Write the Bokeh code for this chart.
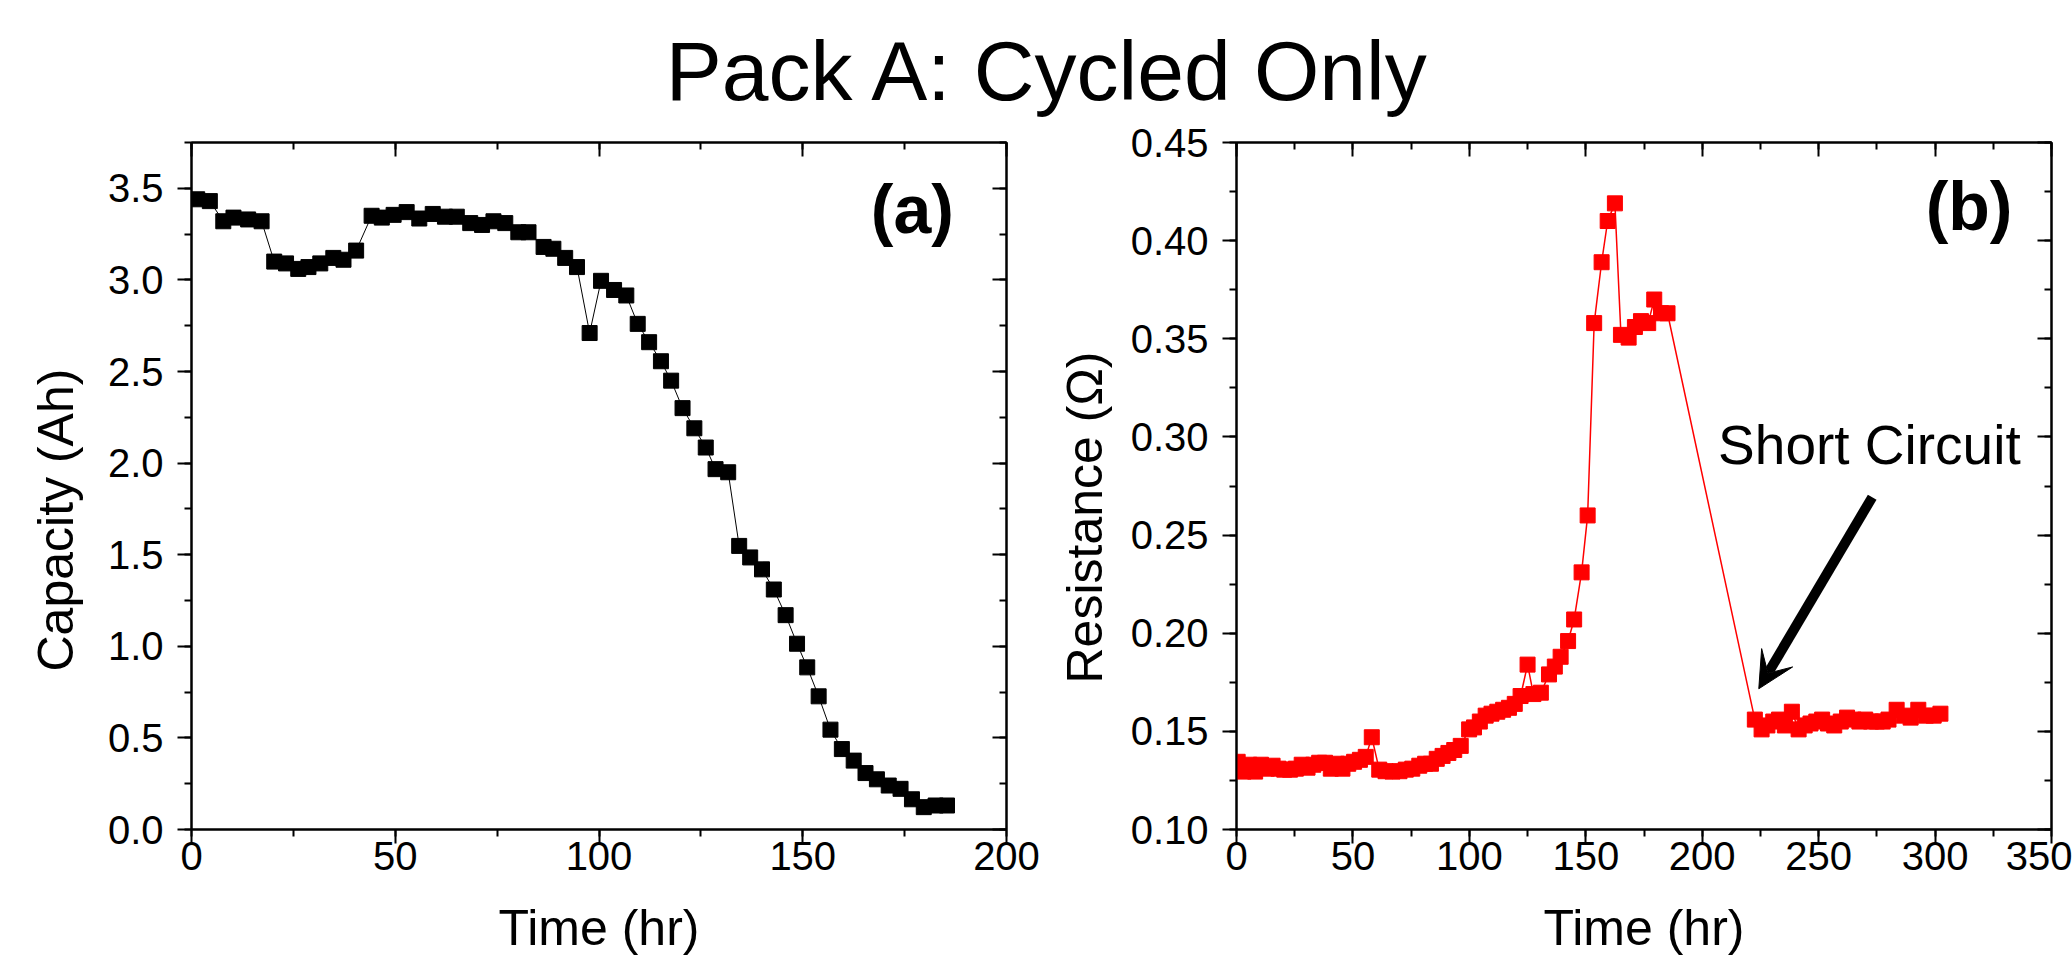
from bokeh.plotting import figure
from bokeh.models import (Range1d, LinearAxis, SingleIntervalTicker, NumeralTickFormatter,
                          Label, Arrow, VeeHead, Title)
from bokeh.layouts import column, row
from bokeh.embed import file_html
from bokeh.resources import INLINE

FONT = "Liberation Sans"

# ---------------- data ----------------
cap_time = [1.4, 4.5, 7.8, 10.3, 13.9, 17.2, 20.3, 23.2, 26.2, 28.7, 31.6, 34.8, 37.3, 40.4,
            44.2, 46.7, 49.6, 52.8, 55.9, 59.2, 62.2, 65.1, 68.4, 71.3, 74.1, 77.0, 80.2, 82.7,
            86.4, 88.8, 91.7, 94.6, 97.7, 100.5, 103.7, 106.7, 109.5, 112.3, 115.2, 117.7,
            120.5, 123.4, 126.2, 128.6, 131.7, 134.4, 137.1, 140.0, 142.9, 145.8, 148.6, 151.1,
            153.9, 156.8, 159.6, 162.5, 165.4, 168.2, 171.1, 174.0, 176.8, 179.7, 182.6, 185.4]
capacity = [3.44, 3.43, 3.32, 3.34, 3.33, 3.32, 3.10, 3.09, 3.06, 3.07, 3.09, 3.12, 3.11, 3.16,
            3.35, 3.34, 3.355, 3.37, 3.335, 3.36, 3.345, 3.345, 3.31, 3.30, 3.32, 3.31, 3.26, 3.26,
            3.18, 3.17, 3.12, 3.07, 2.71, 2.995, 2.945, 2.915, 2.76, 2.66, 2.556, 2.45,
            2.30, 2.19, 2.085, 1.967, 1.95, 1.548, 1.485, 1.42, 1.31, 1.17, 1.014, 0.885,
            0.727, 0.545, 0.439, 0.376, 0.308, 0.274, 0.24, 0.222, 0.165, 0.122, 0.131, 0.131]

res_time = [0.5, 3.0, 5.5, 8.0, 10.5, 13.0, 15.5, 18.0, 20.5, 23.0,
            25.5, 28.0, 30.5, 33.0, 35.5, 38.0, 40.5, 43.0, 45.5, 48.0,
            50.5, 53.0, 55.5, 58.1, 61.3, 64.0, 67.0, 70.0, 72.7, 75.5,
            78.5, 81.0, 83.5, 86.0, 88.5, 91.0, 93.5, 96.3, 99.9, 102.0,
            104.5, 107.0, 109.5, 112.0, 114.5, 117.0, 119.5, 122.0, 125.0, 127.5,
            130.7, 134.2, 136.7, 139.2, 142.4, 145.0, 148.2, 150.8, 153.6, 156.8,
            159.4, 162.5, 165.1, 168.4, 171.1, 173.7, 176.8, 179.4, 182.3, 185.1,
            222.6, 225.5, 228.0, 230.5, 233.0, 235.5, 238.5, 241.4, 244.0, 246.5,
            249.0, 251.5, 254.0, 256.7, 259.5, 262.2, 265.0, 267.5, 270.0, 272.5,
            275.0, 277.5, 280.0, 283.5, 286.5, 289.5, 292.8, 296.0, 299.4, 302.3]
resistance = [0.1345, 0.1295, 0.133, 0.1295, 0.133, 0.131, 0.1325, 0.131, 0.1305, 0.1305,
              0.131, 0.133, 0.1315, 0.133, 0.134, 0.134, 0.131, 0.1335, 0.131, 0.1335,
              0.1345, 0.1355, 0.137, 0.147, 0.1305, 0.1297, 0.1295, 0.1297, 0.1305, 0.131,
              0.1325, 0.1335, 0.1335, 0.136, 0.1375, 0.139, 0.1405, 0.1426, 0.151, 0.152,
              0.155, 0.158, 0.159, 0.160, 0.161, 0.162, 0.164, 0.168, 0.184, 0.169,
              0.1697, 0.179, 0.183, 0.188, 0.196, 0.207, 0.231, 0.260, 0.358, 0.389,
              0.410, 0.419, 0.352, 0.3506, 0.356, 0.359, 0.358, 0.370, 0.363, 0.363,
              0.156, 0.151, 0.153, 0.155, 0.156, 0.153, 0.160, 0.151, 0.153, 0.154,
              0.155, 0.156, 0.154, 0.153, 0.155, 0.157, 0.156, 0.155, 0.156, 0.155,
              0.155, 0.155, 0.156, 0.161, 0.158, 0.157, 0.161, 0.158, 0.158, 0.159]

TITLE = "Pack A: Cycled Only"
X_LABEL = "Time (hr)"
Y_LABEL_A = "Capacity (Ah)"
Y_LABEL_B = "Resistance (\u03a9)"
PANEL_A = "(a)"
PANEL_B = "(b)"
NOTE_B = "Short Circuit"

TICK_FONT = "40px"
LABEL_FONT = "50px"


def style_axis(ax, primary, fmt, interval):
    ax.ticker = SingleIntervalTicker(interval=interval, num_minor_ticks=2)
    ax.axis_line_color = "black"
    ax.axis_line_width = 2
    ax.major_tick_line_color = "black"
    ax.major_tick_line_width = 2
    ax.minor_tick_line_color = "black"
    ax.minor_tick_line_width = 2
    if primary:
        ax.major_tick_out = 14
        ax.major_tick_in = 0
        ax.minor_tick_out = 7
        ax.minor_tick_in = 0
        ax.formatter = NumeralTickFormatter(format=fmt)
        ax.major_label_text_font = FONT
        ax.major_label_text_font_size = TICK_FONT
        ax.major_label_text_color = "black"
    else:
        ax.major_tick_out = 0
        ax.major_tick_in = 14
        ax.minor_tick_out = 0
        ax.minor_tick_in = 7
        ax.major_label_text_font_size = "0px"
        ax.major_label_text_color = None
        ax.major_label_standoff = 0


def make_panel(width, mb_left, mb_right, xr, yr, xint, yint, yfmt, ylabel, yoffset, ystandoff):
    p = figure(width=width, height=849, x_range=Range1d(*xr), y_range=Range1d(*yr),
               output_backend="svg", toolbar_location=None,
               min_border_left=mb_left, min_border_right=mb_right,
               min_border_top=22, min_border_bottom=140)
    p.grid.visible = False
    p.outline_line_color = "black"
    p.outline_line_width = 2
    p.background_fill_color = "white"
    p.border_fill_color = "white"
    xa = p.xaxis[0]
    style_axis(xa, True, "0", xint)
    xa.major_label_standoff = -2
    xa.axis_label = X_LABEL
    xa.axis_label_text_font = FONT
    xa.axis_label_text_font_size = LABEL_FONT
    xa.axis_label_text_font_style = "normal"
    xa.axis_label_text_color = "black"
    xa.axis_label_standoff = 27
    ya = p.yaxis[0]
    style_axis(ya, True, yfmt, yint)
    ya.major_label_standoff = 14
    top = LinearAxis()
    style_axis(top, False, "0", xint)
    p.add_layout(top, "above")
    right = LinearAxis()
    style_axis(right, False, yfmt, yint)
    p.add_layout(right, "right")
    p.add_layout(Title(text=ylabel, align="left", offset=yoffset, standoff=ystandoff,
                       text_font=FONT, text_font_size=LABEL_FONT,
                       text_font_style="normal", text_color="black"), "left")
    return p


def text_label(p, x, y, text, size, align="center", bold=False):
    p.add_layout(Label(x=x, y=y, text=text, text_font=FONT, text_font_size=size,
                       text_color="black", text_align=align, text_baseline="middle",
                       text_font_style="bold" if bold else "normal"))


# ---------------- title ----------------
t = figure(width=2072, height=120, x_range=Range1d(0, 2072), y_range=Range1d(0, 120),
           output_backend="svg", toolbar_location=None, min_border=0,
           x_axis_location=None, y_axis_location=None)
t.grid.visible = False
t.outline_line_color = None
text_label(t, 1048, 49.4, TITLE, "84px")

# ---------------- panel (a) ----------------
pa = make_panel(1040, 191, 34, (0, 200), (0, 3.75), 50, 0.5, "0.0", Y_LABEL_A, 158, 42)
pa.line(cap_time, capacity, line_color="black", line_width=1)
pa.scatter(cap_time, capacity, marker="square", size=15, fill_color="black", line_color="black")
text_label(pa, 176.9, 3.389, PANEL_A, "68px", bold=True)

# ---------------- panel (b) ----------------
pb = make_panel(1032, 196, 21, (0, 350), (0.10, 0.45), 50, 0.05, "0.00", Y_LABEL_B, 146, 29)
pb.line(res_time, resistance, line_color="red", line_width=1.5)
pb.scatter(res_time, resistance, marker="square", size=15, fill_color="red", line_color="red")
text_label(pb, 314.6, 0.4177, PANEL_B, "68px", bold=True)
text_label(pb, 271.8, 0.2961, NOTE_B, "55px")
pb.add_layout(Arrow(end=VeeHead(size=36, fill_color="black", line_color="black"),
                    x_start=273.0, y_start=0.2693, x_end=224.3, y_end=0.1717,
                    line_color="black", line_width=10))

layout = column(t, row(pa, pb))
open("out.html", "w").write(file_html(layout, INLINE))
